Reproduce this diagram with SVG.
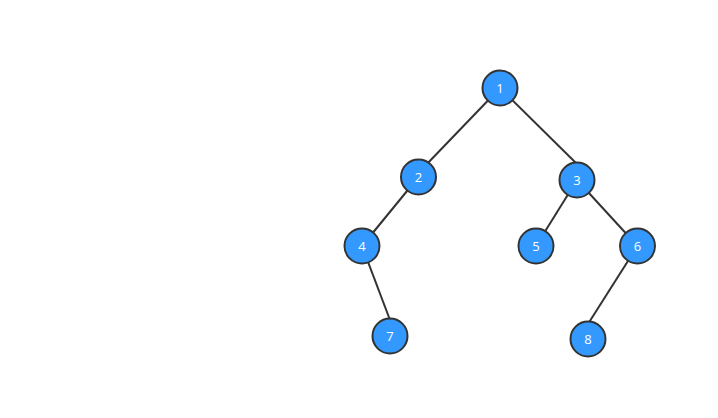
<svg xmlns="http://www.w3.org/2000/svg" width="718" height="418" viewBox="0 0 718 418">
<style>
.n circle{fill:#3399ff;stroke:#333;stroke-width:2}
.n text{fill:#fff;font-family:"Open Sans","DejaVu Sans",sans-serif;font-size:13px;text-anchor:middle;dominant-baseline:central}
.e line{stroke:#333;stroke-width:2}
</style>
<rect width="718" height="418" fill="#fff"/>
<g id="edges" class="e">
<line x1="500" y1="88" x2="425" y2="166"/>
<line x1="500" y1="88" x2="577" y2="164"/>
<line x1="418.5" y1="177" x2="362" y2="246"/>
<line x1="362" y1="246" x2="390" y2="320"/>
<line x1="577" y1="180" x2="536" y2="246"/>
<line x1="577" y1="180" x2="637.5" y2="246"/>
<line x1="637.5" y1="246" x2="588" y2="324"/>
</g>
<g id="node1" class="n"><circle cx="500" cy="88" r="17.5"/><text x="500" y="88">1</text></g>
<g id="node2" class="n"><circle cx="418.5" cy="177" r="17.5"/><text x="418.5" y="177">2</text></g>
<g id="node3" class="n"><circle cx="577" cy="180" r="17.5"/><text x="577" y="180">3</text></g>
<g id="node4" class="n"><circle cx="362" cy="246" r="17.5"/><text x="362" y="246">4</text></g>
<g id="node5" class="n"><circle cx="536" cy="246" r="17.5"/><text x="536" y="246">5</text></g>
<g id="node6" class="n"><circle cx="637.5" cy="246" r="17.5"/><text x="637.5" y="246">6</text></g>
<g id="node7" class="n"><circle cx="390" cy="336" r="17.5"/><text x="390" y="336">7</text></g>
<g id="node8" class="n"><circle cx="588" cy="339" r="17.5"/><text x="588" y="339">8</text></g>
</svg>
